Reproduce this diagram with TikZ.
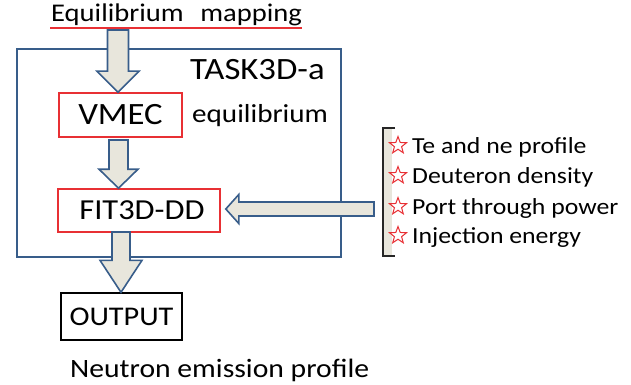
\documentclass[tikz,border=0pt]{standalone}
\usepackage{fontspec}
\setmainfont{Carlito}[FakeStretch=1.12]
\usetikzlibrary{calc,shapes.geometric}
\definecolor{frameblue}{RGB}{56,93,138}
\definecolor{arrowfill}{RGB}{232,230,220}
\definecolor{boxred}{RGB}{232,48,52}
\tikzset{
  blk/.style={draw=frameblue,fill=arrowfill,line width=1.6pt,line join=miter},
  redbox/.style={draw=boxred,line width=1.6pt,minimum width=#1,minimum height=44pt,inner sep=0pt},
  txt/.style={inner sep=0pt,anchor=base west},
  starmark/.style={star,star points=5,star point ratio=2.4,draw=boxred,line width=1pt,minimum size=18pt,inner sep=0pt},
}
% vertical block arrow: #1 top centre, #2 tip, #3 shaft half width, #4 head half width, #5 head length
\newcommand\blockdown[5]{%
  \path[blk] let \p1=(#1), \p2=(#2) in
    (\x1-#3,\y1) -- (\x1+#3,\y1) -- (\x1+#3,\y2+#5) -- (\x1+#4,\y2+#5) --
    (\x1,\y2) -- (\x1-#4,\y2+#5) -- (\x1-#3,\y2+#5) -- cycle;}
\begin{document}
\begin{tikzpicture}[x=1pt,y=-1pt]
\useasboundingbox (0,0) rectangle (631,385);
% frame
\draw[frameblue,line width=1.6pt] (17,49) rectangle (341,257);
% title
\node[txt,font=\fontsize{25.5}{30}\selectfont] (title) at (51,22) {Equilibrium\hspace{0.4em} mapping};
\draw[boxred,line width=1.4pt] (50,28) -- (302,28);
\node[txt,font=\fontsize{31}{34}\selectfont] (task) at (190,80) {TASK3D-a};
% boxes
\node[redbox=123pt] (vmec) at (120.5,115) {\raisebox{-1pt}{\fontsize{31}{34}\selectfont VMEC}};
\node[txt,font=\fontsize{26}{30}\selectfont] (eq) at (192,122) {equilibrium};
\node[redbox=162pt,minimum height=43pt] (fit) at (139,210.5) {\hspace{6pt}\fontsize{29}{32}\selectfont FIT3D-DD};
\node[draw=black,line width=1.4pt,minimum width=121pt,minimum height=47pt,inner sep=0pt] (out) at (121.5,316.5) {\fontsize{27}{30}\selectfont OUTPUT};
\node[txt,font=\fontsize{26.5}{30}\selectfont] (neut) at (70,377) {Neutron emission profile};
% arrows
\coordinate (a1t) at (118,30);
\coordinate (a2t) at (118.5,140);
\coordinate (a3t) at (121,232);
\blockdown{a1t}{vmec.north -| a1t}{10.5pt}{21pt}{21pt}
\blockdown{a2t}{fit.north -| a2t}{9.5pt}{19.5pt}{19pt}
\blockdown{a3t}{out.north -| a3t}{9pt}{21pt}{32pt}
% left arrow into FIT3D-DD
\coordinate (la) at (374,209);
\path[blk] let \p1=(la), \p2=(fit.east) in
  (\x1,\y1+7pt) -- (\x2+18pt,\y1+7pt) -- (\x2+18pt,\y1+14.5pt) -- (\x2+5pt,\y1) --
  (\x2+18pt,\y1-14.5pt) -- (\x2+18pt,\y1-7pt) -- (\x1,\y1-7pt) -- cycle;
% bracket
\fill[arrowfill] (383,128) rectangle (392,256);
\draw[black!85,line width=1.3pt] (395,128) -- (383,128) -- (383,256) -- (395,256);
% list
\foreach \y/\t [count=\i] in {153/Te and ne profile,183/Deuteron density,214/Port through power,243/Injection energy}{
  \node[starmark] (s\i) at (398,\y-7.5) {};
  \node[txt,font=\fontsize{23}{26}\selectfont] (l\i) at (412,\y) {\t};
}
\end{tikzpicture}
\end{document}
